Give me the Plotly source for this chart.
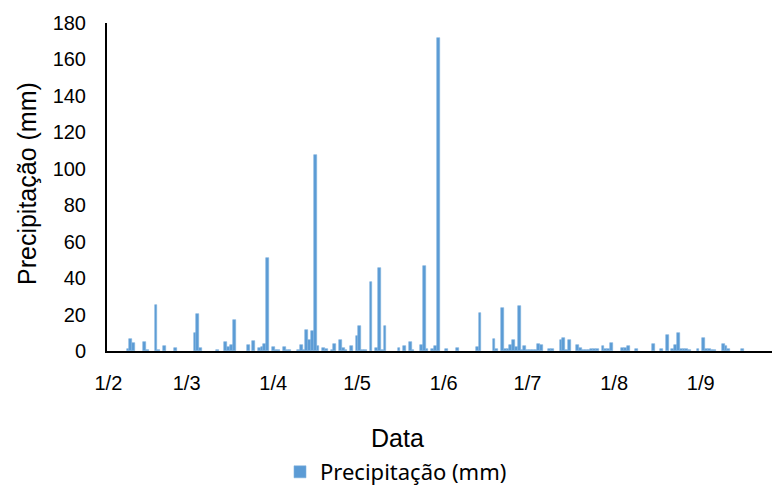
import plotly.graph_objects as go

# Daily precipitation (mm)
dates = [
    "2015-02-08", "2015-02-09", "2015-02-10", "2015-02-14", "2015-02-15", "2015-02-18", "2015-02-19",
    "2015-02-21", "2015-02-25",
    "2015-03-04", "2015-03-05", "2015-03-06", "2015-03-12", "2015-03-15", "2015-03-16", "2015-03-17",
    "2015-03-18", "2015-03-23", "2015-03-25", "2015-03-27", "2015-03-28", "2015-03-29", "2015-03-30",
    "2015-04-01", "2015-04-02", "2015-04-03", "2015-04-05", "2015-04-06", "2015-04-07", "2015-04-10",
    "2015-04-11", "2015-04-12", "2015-04-13", "2015-04-14", "2015-04-15", "2015-04-16", "2015-04-17",
    "2015-04-19", "2015-04-20", "2015-04-22", "2015-04-23", "2015-04-25", "2015-04-26", "2015-04-27",
    "2015-04-29",
    "2015-05-01", "2015-05-02", "2015-05-03", "2015-05-04", "2015-05-06", "2015-05-08", "2015-05-09",
    "2015-05-10", "2015-05-11", "2015-05-16", "2015-05-18", "2015-05-20", "2015-05-21", "2015-05-24",
    "2015-05-25", "2015-05-26", "2015-05-28", "2015-05-29", "2015-05-30",
    "2015-06-02", "2015-06-06", "2015-06-13", "2015-06-14", "2015-06-19", "2015-06-20", "2015-06-22",
    "2015-06-23", "2015-06-24", "2015-06-25", "2015-06-26", "2015-06-27", "2015-06-28", "2015-06-29",
    "2015-06-30",
    "2015-07-01", "2015-07-02", "2015-07-03", "2015-07-04", "2015-07-05", "2015-07-06", "2015-07-09",
    "2015-07-10", "2015-07-13", "2015-07-14", "2015-07-15", "2015-07-16", "2015-07-19", "2015-07-20",
    "2015-07-21", "2015-07-22", "2015-07-23", "2015-07-24", "2015-07-25", "2015-07-26", "2015-07-28",
    "2015-07-29", "2015-07-30", "2015-07-31",
    "2015-08-04", "2015-08-05", "2015-08-06", "2015-08-09", "2015-08-15", "2015-08-18", "2015-08-20",
    "2015-08-22", "2015-08-23", "2015-08-24", "2015-08-25", "2015-08-26", "2015-08-27", "2015-08-28",
    "2015-08-31",
    "2015-09-02", "2015-09-03", "2015-09-04", "2015-09-05", "2015-09-06", "2015-09-09", "2015-09-10",
    "2015-09-11", "2015-09-16",
]
precip = [
    1.3, 6.4, 4.6, 4.8, 0.6, 25.0, 0.5,
    2.6, 1.5,
    9.9, 20.3, 1.5, 0.5, 4.8, 2.2, 3.1,
    16.8, 3.1, 5.7, 1.5, 2.2, 3.7, 51.0,
    2.0, 0.8, 0.8, 2.4, 0.8, 0.8, 0.8,
    3.5, 0.5, 11.3, 6.2, 10.8, 107.5, 2.6,
    1.6, 1.0, 0.5, 4.0, 5.9, 1.6, 0.5,
    2.7,
    8.0, 13.5, 0.5, 0.5, 38.0, 1.5, 45.5,
    0.5, 13.7, 1.8, 2.6, 5.1, 0.5, 3.1,
    46.5, 1.0, 1.0, 2.6, 171.5,
    1.1, 1.5, 2.2, 20.8, 6.8, 1.0, 23.6,
    1.0, 1.0, 3.1, 6.2, 2.2, 24.7, 0.5,
    2.6,
    0.8, 0.5, 0.8, 0.5, 3.7, 3.1, 1.0,
    1.0, 6.2, 7.3, 0.5, 6.2, 3.5, 1.5,
    0.8, 0.8, 0.8, 1.0, 1.0, 1.3, 2.5,
    1.2, 1.2, 4.6,
    1.8, 1.5, 2.6, 1.1, 4.0, 1.1, 8.6,
    1.2, 3.5, 9.9, 1.0, 1.0, 1.0, 0.8,
    1.1,
    7.3, 1.0, 1.0, 0.8, 0.8, 4.0, 2.6,
    1.0, 1.3,
]

tick_dates = ["2015-02-01", "2015-03-01", "2015-04-01", "2015-05-01",
              "2015-06-01", "2015-07-01", "2015-08-01", "2015-09-01"]
tick_labels = ["1/2", "1/3", "1/4", "1/5", "1/6", "1/7", "1/8", "1/9"]
y_ticks = [0, 20, 40, 60, 80, 100, 120, 140, 160, 180]

series_name = "Precipitação (mm)"
x_title = "Data"
y_title = "Precipitação (mm)"

DAY_MS = 86400000
W, H = 773, 491
L, R, T, B = 107, 1, 23, 140
pw = W - L - R
ph = H - T - B

fig = go.Figure()
fig.add_trace(go.Bar(
    x=dates, y=precip, name=series_name,
    marker=dict(color="#5B9BD5", line=dict(width=0.6, color="#7FB1DE")),
    width=[DAY_MS * 1.0] * len(dates),
    showlegend=True,
))

axis_font = dict(family="Liberation Sans, Arial, sans-serif", size=20, color="#000000")

fig.update_layout(
    width=W, height=H,
    margin=dict(l=L, r=R, t=T, b=B, pad=0),
    paper_bgcolor="white", plot_bgcolor="white",
    bargap=0,
    showlegend=True,
    legend=dict(
        orientation="h",
        xref="container", x=280 / W, xanchor="left",
        yref="container", y=1 - 472 / H, yanchor="middle",
        font=dict(family="Noto Sans, sans-serif", size=22, color="#000000"),
        bgcolor="rgba(0,0,0,0)", itemwidth=30,
    ),
    xaxis=dict(
        type="date",
        range=["2015-01-31 12:00", "2015-09-26 12:00"],
        tickmode="array", tickvals=tick_dates, ticktext=tick_labels,
        showgrid=False, zeroline=False,
        showline=True, linecolor="#000000", linewidth=2,
        ticks="", tickfont=axis_font, ticklabelstandoff=13,
    ),
    yaxis=dict(
        range=[0, 180], tickmode="array", tickvals=y_ticks,
        showgrid=False, zeroline=False,
        showline=True, linecolor="#000000", linewidth=2,
        ticks="", tickfont=axis_font, ticklabelstandoff=15,
    ),
    annotations=[
        dict(text=x_title, xref="paper", yref="paper",
             x=(397 - L) / pw, y=(351 - 438) / ph,
             xanchor="center", yanchor="middle", showarrow=False,
             font=dict(family="Liberation Sans, Arial, sans-serif", size=25, color="#000000")),
        dict(text=y_title, xref="paper", yref="paper",
             x=(27 - L) / pw, y=(351 - 184) / ph, textangle=-90,
             xanchor="center", yanchor="middle", showarrow=False,
             font=dict(family="Liberation Sans, Arial, sans-serif", size=25, color="#000000")),
    ],
)

fig.write_html("out.html")
